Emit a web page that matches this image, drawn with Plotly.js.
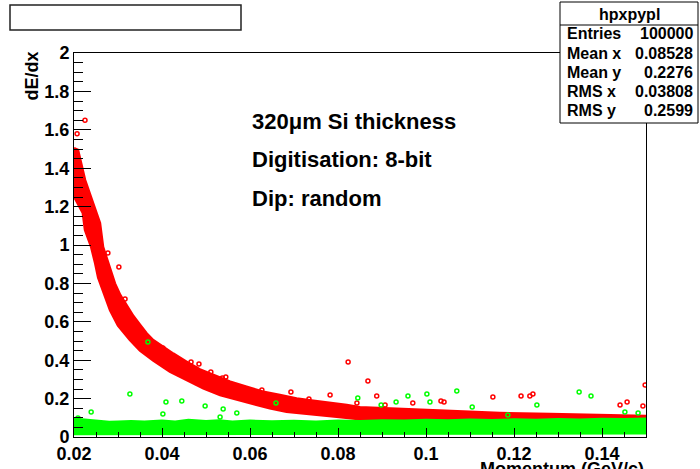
<!DOCTYPE html>
<html>
<head>
<meta charset="utf-8">
<script src="https://cdn.plot.ly/plotly-3.0.1.min.js"></script>
<style>
  html, body { margin: 0; padding: 0; background: #ffffff; }
  #plot { width: 700px; height: 469px; }
</style>
</head>
<body>
<div id="plot"></div>
<script>
// dE/dx versus momentum: dense red (pion) band and green (electron) band, with outliers

// Red band: upper (top/right) boundary
const redUpperX = [0.0200, 0.0209, 0.0225, 0.0241, 0.0259, 0.0266, 0.0282, 0.0293, 0.0305, 0.0320, 0.0335, 0.0350, 0.0365, 0.0380, 0.0403, 0.0426, 0.0456, 0.0486, 0.0517, 0.0555, 0.0592, 0.0630, 0.0668, 0.0706, 0.0744, 0.0782, 0.0820, 0.0850, 0.0941, 0.1055, 0.1168, 0.1282, 0.1395, 0.1500];
const redUpperY = [1.505, 1.495, 1.339, 1.234, 1.115, 0.990, 0.870, 0.800, 0.740, 0.685, 0.630, 0.585, 0.540, 0.505, 0.468, 0.434, 0.392, 0.352, 0.323, 0.288, 0.262, 0.236, 0.219, 0.201, 0.189, 0.179, 0.167, 0.155, 0.146, 0.135, 0.125, 0.120, 0.115, 0.109];
// Red band: lower (left/bottom) boundary
const redLowerX = [0.0200, 0.02045, 0.0220, 0.0225, 0.0239, 0.0248, 0.0255, 0.0270, 0.0282, 0.0300, 0.0327, 0.0350, 0.0380, 0.0418, 0.0456, 0.0494, 0.0532, 0.0570, 0.0608, 0.0645, 0.0683, 0.0721, 0.0759, 0.0797, 0.0850, 0.0941, 0.1055, 0.1168, 0.1282, 0.1500];
const redLowerY = [1.250, 1.234, 1.167, 1.078, 0.990, 0.906, 0.830, 0.735, 0.660, 0.580, 0.505, 0.450, 0.398, 0.340, 0.297, 0.253, 0.219, 0.193, 0.172, 0.149, 0.132, 0.123, 0.115, 0.106, 0.092, 0.083, 0.073, 0.068, 0.063, 0.063];

// Green band boundaries
const greenUpperX = [0.020, 0.022, 0.025, 0.028, 0.030, 0.033, 0.036, 0.040, 0.043, 0.046, 0.050, 0.053, 0.056, 0.060, 0.065, 0.070, 0.075, 0.080, 0.085, 0.090, 0.095, 0.100, 0.105, 0.110, 0.115, 0.120, 0.125, 0.130, 0.135, 0.140, 0.145, 0.150];
const greenUpperY = [0.095, 0.090, 0.085, 0.078, 0.080, 0.082, 0.080, 0.084, 0.080, 0.088, 0.082, 0.086, 0.080, 0.084, 0.081, 0.083, 0.080, 0.084, 0.082, 0.086, 0.084, 0.088, 0.086, 0.090, 0.087, 0.091, 0.088, 0.092, 0.090, 0.094, 0.092, 0.095];
const greenLowerX = [0.020, 0.050, 0.080, 0.110, 0.150];
const greenLowerY = [0.016, 0.017, 0.017, 0.018, 0.019];

// Isolated points
const redOutX = [0.0225, 0.0207, 0.0277, 0.0302, 0.0316, 0.0402, 0.0466, 0.0484, 0.0468, 0.0477, 0.0511, 0.0537, 0.0545, 0.0627, 0.0623, 0.0693, 0.0650, 0.0734, 0.0782, 0.0823, 0.0843, 0.0530, 0.0555, 0.0868, 0.0888, 0.0907, 0.0970, 0.1034, 0.1041, 0.1152, 0.1216, 0.1236, 0.1243, 0.1441, 0.1457, 0.1493, 0.1498];
const redOutY = [1.65, 1.58, 0.958, 0.885, 0.719, 0.464, 0.391, 0.380, 0.359, 0.354, 0.339, 0.307, 0.313, 0.245, 0.229, 0.234, 0.214, 0.198, 0.219, 0.391, 0.177, 0.276, 0.271, 0.292, 0.214, 0.167, 0.177, 0.188, 0.182, 0.208, 0.214, 0.214, 0.224, 0.167, 0.182, 0.161, 0.271];
const greenOutX = [0.0368, 0.0327, 0.0409, 0.0445, 0.0498, 0.0239, 0.0402, 0.0539, 0.0570, 0.0659, 0.0209, 0.0532, 0.0845, 0.0932, 0.0959, 0.1002, 0.1009, 0.1070, 0.0898, 0.1252, 0.1348, 0.1375, 0.1452, 0.1482, 0.1105, 0.1186];
const greenOutY = [0.495, 0.224, 0.182, 0.188, 0.161, 0.130, 0.120, 0.146, 0.125, 0.177, 0.099, 0.104, 0.203, 0.182, 0.214, 0.224, 0.182, 0.240, 0.167, 0.167, 0.234, 0.214, 0.130, 0.125, 0.156, 0.115];

// Axis ticks
const xTickVals = [0.02, 0.04, 0.06, 0.08, 0.10, 0.12, 0.14];
const xTickText = ["0.02", "0.04", "0.06", "0.08", "0.1", "0.12", "0.14"];
const yTickVals = [0, 0.2, 0.4, 0.6, 0.8, 1.0, 1.2, 1.4, 1.6, 1.8, 2.0];
const yTickText = ["0", "0.2", "0.4", "0.6", "0.8", "1", "1.2", "1.4", "1.6", "1.8", "2"];

// Statistics box
const statsTitle = "hpxpypl";
const statsLabels = ["Entries", "Mean x", "Mean y", "RMS x", "RMS y"];
const statsValues = ["100000", "0.08528", "0.2276", "0.03808", "0.2599"];

// Caption lines
const captionLines = ["320μm Si thickness", "Digitisation: 8-bit", "Dip: random"];

const FONT = "Liberation Sans, Arial, Helvetica, sans-serif";
const W = 700, H = 469;
const M = { l: 74, r: 54, t: 53, b: 32 };
const plotW = W - M.l - M.r, plotH = H - M.t - M.b;
// pixel -> paper coordinates
const px = v => (v - M.l) / plotW;
const py = v => (H - M.b - v) / plotH;

function polygon(ux, uy, lx, ly) {
  return {
    x: ux.concat(lx.slice().reverse()),
    y: uy.concat(ly.slice().reverse())
  };
}
const redPoly = polygon(redUpperX, redUpperY, redLowerX, redLowerY);
const greenPoly = polygon(greenUpperX, greenUpperY, greenLowerX, greenLowerY);

const traces = [
  { x: redPoly.x, y: redPoly.y, type: 'scatter', mode: 'lines', fill: 'toself',
    fillcolor: '#ff0000', line: { color: '#ff0000', width: 2.5 }, hoverinfo: 'skip' },
  { x: greenPoly.x, y: greenPoly.y, type: 'scatter', mode: 'lines', fill: 'toself',
    fillcolor: '#00ff00', line: { color: '#00ff00', width: 2.5 }, hoverinfo: 'skip' },
  { x: redOutX, y: redOutY, type: 'scatter', mode: 'markers',
    marker: { symbol: 'circle-open', size: 4, color: '#ff0000', line: { width: 1.5, color: '#ff0000' } } },
  { x: greenOutX, y: greenOutY, type: 'scatter', mode: 'markers',
    marker: { symbol: 'circle-open', size: 4, color: '#00ff00', line: { width: 1.5, color: '#00ff00' } } }
];

const tickFont = { family: FONT, size: 18, color: '#000000', weight: 'bold' };

const annotations = [];
// axis titles
annotations.push({ xref: 'paper', yref: 'paper', x: px(31), y: py(50), xanchor: 'center', yanchor: 'top',
  text: 'dE/dx', textangle: -90, showarrow: false, font: { family: FONT, size: 18, color: '#000', weight: 'bold' } });
annotations.push({ xref: 'paper', yref: 'paper', x: px(646), y: py(457), xanchor: 'right', yanchor: 'top',
  text: 'Momentum (GeV/c)', showarrow: false, font: { family: FONT, size: 18, color: '#000', weight: 'bold' } });
// caption
const captionY = [121, 159.5, 198];
captionLines.forEach((t, i) => {
  annotations.push({ xref: 'paper', yref: 'paper', x: px(250), y: py(captionY[i]), xanchor: 'left', yanchor: 'middle',
    text: t, showarrow: false, font: { family: FONT, size: 22, color: '#000', weight: 'bold' } });
});
// statistics box text
annotations.push({ xref: 'paper', yref: 'paper', x: px(629), y: py(14), xanchor: 'center', yanchor: 'middle',
  text: statsTitle, showarrow: false, font: { family: FONT, size: 16, color: '#000', weight: 'bold' } });
const statsRowY = [34, 53, 72.5, 91.5, 111];
statsLabels.forEach((t, i) => {
  annotations.push({ xref: 'paper', yref: 'paper', x: px(565), y: py(statsRowY[i]), xanchor: 'left', yanchor: 'middle',
    text: t, showarrow: false, font: { family: FONT, size: 16, color: '#000', weight: 'bold' } });
  annotations.push({ xref: 'paper', yref: 'paper', x: px(695), y: py(statsRowY[i]), xanchor: 'right', yanchor: 'middle',
    text: statsValues[i], showarrow: false, font: { family: FONT, size: 16, color: '#000', weight: 'bold' } });
});

const shapes = [
  // empty title box
  { type: 'rect', xref: 'paper', yref: 'paper', x0: px(10), x1: px(241), y0: py(5), y1: py(30),
    line: { color: '#222222', width: 1.5 }, fillcolor: '#ffffff' },
  // statistics box
  { type: 'rect', xref: 'paper', yref: 'paper', x0: px(560), x1: px(698), y0: py(2), y1: py(123),
    line: { color: '#000000', width: 1 }, fillcolor: '#ffffff' },
  { type: 'line', xref: 'paper', yref: 'paper', x0: px(560), x1: px(698), y0: py(25), y1: py(25),
    line: { color: '#000000', width: 1 } }
];

const layout = {
  width: W, height: H,
  margin: { l: M.l, r: M.r, t: M.t, b: M.b, pad: 0 },
  paper_bgcolor: '#ffffff', plot_bgcolor: '#ffffff',
  showlegend: false,
  xaxis: {
    range: [0.02, 0.15], tickmode: 'array', tickvals: xTickVals, ticktext: xTickText,
    ticks: 'inside', ticklen: 9, tickwidth: 1, tickcolor: '#000000',
    minor: { tickmode: 'linear', tick0: 0.02, dtick: 0.005, ticks: 'inside', ticklen: 5, tickwidth: 1, tickcolor: '#000000' },
    showline: true, linecolor: '#000000', linewidth: 1, mirror: true,
    showgrid: false, zeroline: false, tickfont: tickFont
  },
  yaxis: {
    range: [0, 2], tickmode: 'array', tickvals: yTickVals, ticktext: yTickText,
    ticks: 'inside', ticklen: 17, tickwidth: 1, tickcolor: '#000000',
    minor: { tickmode: 'linear', tick0: 0, dtick: 0.05, ticks: 'inside', ticklen: 8.5, tickwidth: 1, tickcolor: '#000000' },
    showline: true, linecolor: '#000000', linewidth: 1, mirror: true,
    showgrid: false, zeroline: false, tickfont: tickFont
  },
  annotations: annotations,
  shapes: shapes
};

Plotly.newPlot('plot', traces, layout, { displayModeBar: false, staticPlot: true });
</script>
</body>
</html>
